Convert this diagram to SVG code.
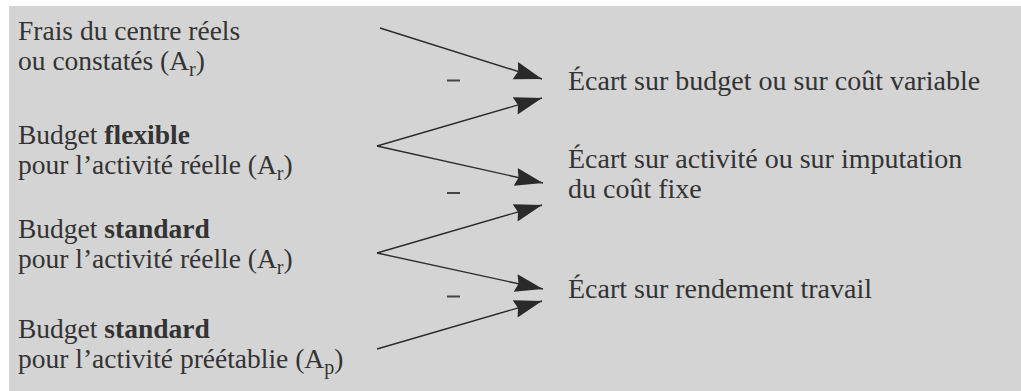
<svg xmlns="http://www.w3.org/2000/svg" width="1021" height="391" viewBox="0 0 1021 391">
<style>
text{font-family:"Liberation Serif","Times New Roman",serif;font-size:27.5px;fill:#333}
.r{font-size:28px}
.b{font-weight:bold}
.sub{font-size:20px}
.ln{stroke:#2a2a2a;stroke-width:1.4;fill:none;marker-end:url(#ah)}
.mn{stroke:#444;stroke-width:2}
</style>
<defs>
<marker id="ah" markerUnits="userSpaceOnUse" markerWidth="32" markerHeight="20" refX="28" refY="9" orient="auto">
<path d="M0,0 L28,9 L0,18 L3,9 z" fill="#2a2a2a"/>
</marker>
</defs>
<rect x="9" y="6" width="1012" height="385" fill="#d4d4d4"/>
<g id="n1"><text x="18" y="40">Frais du centre réels</text><text x="18" y="70">ou constatés (A<tspan class="sub" dy="6">r</tspan><tspan dy="-6">)</tspan></text></g>
<g id="n2"><text x="18" y="144">Budget <tspan class="b">flexible</tspan></text><text x="18" y="174">pour l’activité réelle (A<tspan class="sub" dy="6">r</tspan><tspan dy="-6">)</tspan></text></g>
<g id="n3"><text x="18" y="238">Budget <tspan class="b">standard</tspan></text><text x="18" y="268">pour l’activité réelle (A<tspan class="sub" dy="6">r</tspan><tspan dy="-6">)</tspan></text></g>
<g id="n4"><text x="18" y="338">Budget <tspan class="b">standard</tspan></text><text x="18" y="368">pour l’activité préétablie (A<tspan class="sub" dy="6">p</tspan><tspan dy="-6">)</tspan></text></g>
<g id="r1"><text class="r" x="568" y="90">Écart sur budget ou sur coût variable</text></g>
<g id="r2"><text class="r" x="568" y="168">Écart sur activité ou sur imputation</text><text class="r" x="568" y="198">du coût fixe</text></g>
<g id="r3"><text class="r" x="568" y="298">Écart sur rendement travail</text></g>
<g id="connectors">
<line class="ln" x1="380" y1="28" x2="542" y2="79"/>
<line class="ln" x1="377" y1="146" x2="542" y2="98"/>
<line class="ln" x1="377" y1="146" x2="543" y2="183"/>
<line class="ln" x1="377" y1="253" x2="542" y2="205"/>
<line class="ln" x1="377" y1="253" x2="543" y2="289"/>
<line class="ln" x1="377" y1="349" x2="542" y2="301"/>
<line class="mn" x1="447" y1="80.5" x2="460" y2="80.5"/>
<line class="mn" x1="447" y1="193" x2="460" y2="193"/>
<line class="mn" x1="447" y1="296.5" x2="460" y2="296.5"/>
</g>
</svg>
